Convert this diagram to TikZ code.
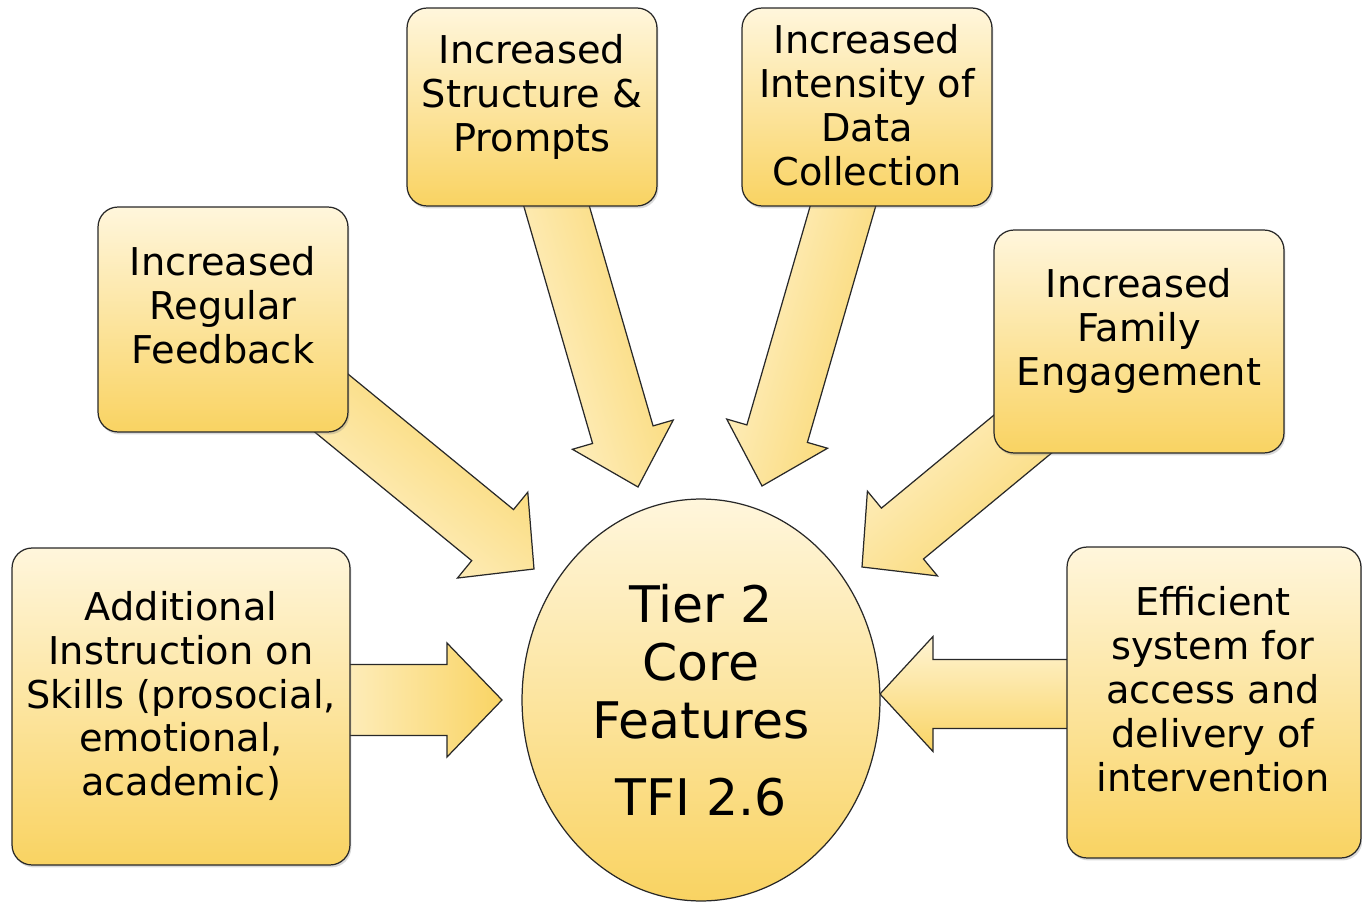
\documentclass[tikz,border=0pt]{standalone}
\usepackage{fontspec}
\setmainfont{DejaVu Sans}
\usetikzlibrary{calc,shadows,shapes.geometric,backgrounds}
\definecolor{boxtop}{RGB}{255,246,220}
\definecolor{boxbot}{RGB}{249,211,98}
\definecolor{arrlight}{RGB}{255,244,212}
\definecolor{arrdark}{RGB}{249,212,100}
\definecolor{edgecol}{RGB}{40,40,40}
\tikzset{
  featbox/.style={draw=edgecol, line width=0.7pt, rounded corners=0.4cm,
    top color=boxtop, bottom color=boxbot, inner sep=0pt,
    drop shadow={shadow xshift=0.8pt, shadow yshift=-1.4pt, opacity=0.3}},
  boxtext/.style={align=center, font=\fontsize{21.8}{25}\selectfont, inner sep=0pt},
  core/.style={ellipse, draw=edgecol, line width=0.7pt, top color=boxtop,
    bottom color=boxbot, inner sep=0pt, align=center,
    font=\fontsize{28.7}{33}\selectfont},
  blockarrow/.style={draw=edgecol, line width=0.7pt, top color=arrlight, bottom color=arrdark},
}
% #1 tail, #2 tip, #3 shaft half width, #4 head half width, #5 head length, #6 shading angle
\newcommand\blockarr[6]{%
  \coordinate (hb) at ($(#2)!#5!(#1)$);
  \path[blockarrow, shading angle=#6]
    ($(#1)!#3!90:(#2)$) -- ($(hb)!#3!90:(#2)$) -- ($(hb)!#4!90:(#2)$) -- (#2)
    -- ($(hb)!#4!-90:(#2)$) -- ($(hb)!#3!-90:(#2)$) -- ($(#1)!#3!-90:(#2)$) -- cycle;
}
\begin{document}
\begin{tikzpicture}[x=0.02cm, y=-0.02cm]
\useasboundingbox (0,0) rectangle (1362,902);

% boxes
\node[featbox, minimum width=5cm, minimum height=3.96cm] (b1) at (532,107) {};
\node[boxtext] (t1) at (532,97) {Increased\\Structure \&\\Prompts};

\node[featbox, minimum width=5cm, minimum height=3.96cm] (b2) at (867,107) {};
\node[boxtext] (t2) at (867,105.5) {Increased\\Intensity of\\Data\\Collection};

\node[featbox, minimum width=5cm, minimum height=4.5cm] (b3) at (223,319.5) {};
\node[boxtext] (t3) at (223,305) {Increased\\Regular\\Feedback};

\node[featbox, minimum width=5.8cm, minimum height=4.46cm] (b4) at (1139,341.5) {};
\node[boxtext] (t4) at (1139,331) {Increased\\Family\\Engagement};

\node[featbox, minimum width=6.76cm, minimum height=6.34cm] (b5) at (181,706.5) {};
\node[boxtext] (t5) at (181,696) {Additional\\Instruction on\\Skills (prosocial,\\emotional,\\academic)};

\node[featbox, minimum width=5.88cm, minimum height=6.22cm] (b6) at (1214,702.5) {};
\node[boxtext] (t6) at (1213,689) {Efficient\\system for\\access and\\delivery of\\intervention};

% core
\node[core, minimum width=7.16cm, minimum height=8.04cm] (c) at (701,700)
  {Tier 2\\Core\\Features\\[11pt]TFI 2.6};

% arrow end points
\coordinate (s1) at (540,149);  \coordinate (e1) at (638,487);
\coordinate (s2) at (856,161);  \coordinate (e2) at (762,486);
\coordinate (s3) at (302,379);  \coordinate (e3) at (534,569);
\coordinate (s4) at (1093,376); \coordinate (e4) at (862,567);
\coordinate (s5) at (300,700);  \coordinate (e5) at (502,700);
\coordinate (s6) at (1100,694); \coordinate (e6) at (880,694);

\begin{scope}[on background layer]
  \blockarr{s1}{e1}{0.63cm}{1.05cm}{1.09cm}{106}
  \blockarr{s2}{e2}{0.63cm}{1.05cm}{1.09cm}{74}
  \blockarr{s3}{e3}{0.66cm}{1.11cm}{1.07cm}{141}
  \blockarr{s4}{e4}{0.66cm}{1.10cm}{1.05cm}{40}
  \blockarr{s5}{e5}{0.71cm}{1.14cm}{1.10cm}{90}
  \blockarr{s6}{e6}{0.69cm}{1.15cm}{1.06cm}{0}
\end{scope}
\end{tikzpicture}
\end{document}
